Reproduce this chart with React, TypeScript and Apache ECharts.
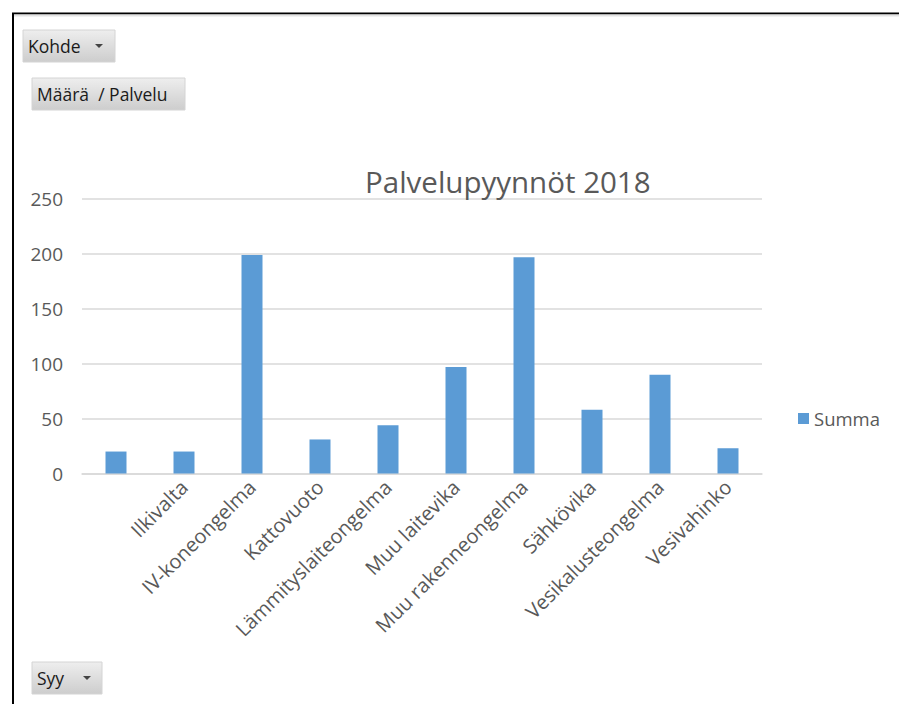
import React, { useEffect, useRef } from "react";
import * as echarts from "echarts";

const categories = [
  "",
  "Ilkivalta",
  "IV-koneongelma",
  "Kattovuoto",
  "Lämmityslaiteongelma",
  "Muu laitevika",
  "Muu rakenneongelma",
  "Sähkövika",
  "Vesikalusteongelma",
  "Vesivahinko",
];
const summaValues = [20, 20, 199, 31, 44, 97, 197, 58, 90, 23];
const yTicks = [0, 50, 100, 150, 200, 250];
const chartTitle = "Palvelupyynnöt 2018";
const seriesName = "Summa";

const FONT = "'Open Sans', 'Noto Sans', sans-serif";

function button(x: number, y: number, w: number, h: number, label: string, arrow: boolean, arrowX: number) {
  const children: any[] = [
    {
      type: "rect",
      shape: { x, y, width: w, height: h },
      style: {
        fill: new echarts.graphic.LinearGradient(0, 0, 0, 1, [
          { offset: 0, color: "#eeeeee" },
          { offset: 1, color: "#cdcdcd" },
        ]),
        stroke: "#d4d4d4",
        lineWidth: 1,
      },
    },
    {
      type: "text",
      x: x + 5,
      y: y + h / 2,
      style: {
        text: label,
        fill: "#1a1a1a",
        font: `17.5px ${FONT}`,
        verticalAlign: "middle",
        align: "left",
      },
    },
  ];
  if (arrow) {
    const cy = y + h / 2;
    children.push({
      type: "polygon",
      shape: {
        points: [
          [arrowX - 4, cy - 2],
          [arrowX + 4, cy - 2],
          [arrowX, cy + 2],
        ],
      },
      style: { fill: "#444444" },
    });
  }
  return { type: "group", children };
}

export default function App() {
  const ref = useRef<HTMLDivElement>(null);
  useEffect(() => {
    if (!ref.current) return;
    const chart = echarts.init(ref.current, null, { renderer: "svg" });
    chart.setOption({
      animation: false,
      backgroundColor: "#ffffff",
      title: {
        text: chartTitle,
        left: 365,
        top: 166,
        textStyle: { fontFamily: FONT, fontSize: 29.5, fontWeight: "normal", color: "#595959" },
        padding: 0,
      },
      legend: {
        data: [seriesName],
        left: 798,
        top: 409,
        itemWidth: 11,
        itemHeight: 11,
        icon: "rect",
        padding: 0,
        textStyle: { fontFamily: FONT, fontSize: 18.5, color: "#595959" },
      },
      grid: { left: 82, right: 137, top: 199, bottom: 230.5, containLabel: false },
      xAxis: {
        type: "category",
        data: categories,
        axisLine: { show: true, lineStyle: { color: "#d9d9d9", width: 1.5 } },
        axisTick: { show: false },
        axisLabel: {
          interval: 0,
          rotate: 45,
          margin: 10,
          color: "#595959",
          fontFamily: FONT,
          fontSize: 20,
        },
      },
      yAxis: {
        type: "value",
        min: yTicks[0],
        max: yTicks[yTicks.length - 1],
        interval: 50,
        axisLine: { show: false },
        axisTick: { show: false },
        splitLine: { lineStyle: { color: "#d9d9d9", width: 1.5 } },
        axisLabel: { margin: 19, color: "#595959", fontFamily: FONT, fontSize: 19 },
      },
      series: [
        {
          name: seriesName,
          type: "bar",
          data: summaValues,
          barWidth: 21,
          itemStyle: { color: "#5B9BD5" },
        },
      ],
      graphic: [
        {
          type: "line",
          shape: { x1: 12, y1: 13.5, x2: 899, y2: 13.5 },
          style: { stroke: "#000000", lineWidth: 2 },
        },
        {
          type: "line",
          shape: { x1: 13, y1: 13, x2: 13, y2: 704 },
          style: { stroke: "#000000", lineWidth: 2 },
        },
        {
          type: "line",
          shape: { x1: 14, y1: 15.5, x2: 899, y2: 15.5 },
          style: { stroke: "#e3e3e3", lineWidth: 2 },
        },
        button(23, 30, 92, 32, "Kohde", true, 99),
        button(32, 78, 153, 32, "Määrä  / Palvelu", false, 0),
        button(32, 662, 70, 32, "Syy", true, 87),
      ],
    });
    return () => chart.dispose();
  }, []);
  return (
    <div
      ref={ref}
      style={{ position: "absolute", left: 0, top: 0, width: 899, height: 704 }}
    />
  );
}
